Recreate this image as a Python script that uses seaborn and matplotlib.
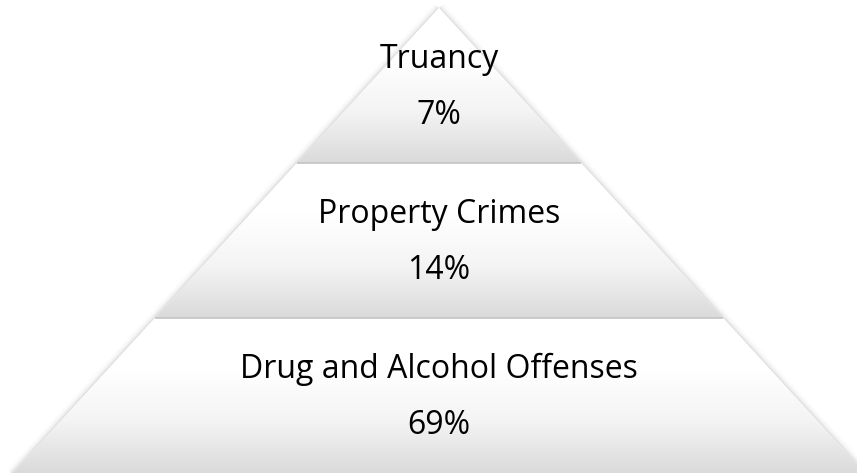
import numpy as np
import matplotlib
matplotlib.use("Agg")
import matplotlib.pyplot as plt
from matplotlib.patches import Polygon
import seaborn as sns

# Tiers of the pyramid, from the apex down to the base
levels = ["Truancy", "Property Crimes", "Drug and Alcohol Offenses"]
shares = [7, 14, 69]

sns.set_theme(style="white")
plt.rcParams["font.family"] = ["Open Sans", "DejaVu Sans"]

W, H = 857, 473
fig = plt.figure(figsize=(W / 100, H / 100), dpi=100)
ax = fig.add_axes([0, 0, 1, 1])
ax.set_xlim(0, W)
ax.set_ylim(H, 0)
ax.axis("off")

cx, apex_y = 439, 8
slope = 0.916          # half-width gained per pixel of height
tier_h = 155
base_y = apex_y + tier_h * len(levels)


def half(y):
    return slope * (y - apex_y)


# soft drop shadow around the whole pyramid
outline = [(cx, apex_y), (cx + half(base_y + 4), base_y + 4), (cx - half(base_y + 4), base_y + 4)]
for lw, a in [(9, 0.025), (6, 0.04), (3.5, 0.06), (1.8, 0.08)]:
    ax.add_patch(Polygon(outline, closed=True, fill=False, edgecolor="#606060",
                         linewidth=lw, alpha=a, joinstyle="round", zorder=1))

# white-to-grey vertical shading for every tier
shade = sns.blend_palette(["#ffffff", "#ffffff", "#f4f4f4", "#dadada"], as_cmap=True)
grad = np.linspace(0, 1, 256).reshape(-1, 1)

for i, (name, share) in enumerate(zip(levels, shares)):
    y0 = apex_y + i * tier_h
    y1 = y0 + tier_h
    pts = [(cx - half(y0), y0), (cx + half(y0), y0),
           (cx + half(y1), y1), (cx - half(y1), y1)]
    poly = Polygon(pts, closed=True, facecolor="white", edgecolor="none", zorder=2)
    ax.add_patch(poly)
    img = ax.imshow(grad, cmap=shade, aspect="auto", origin="upper",
                    extent=(cx - half(y1), cx + half(y1), y1, y0),
                    interpolation="bilinear", zorder=3)
    img.set_clip_path(poly)
    if i < len(levels) - 1:
        ax.plot([cx - half(y1), cx + half(y1)], [y1, y1], color="#c4c4c4",
                linewidth=1.2, solid_capstyle="butt", zorder=4)
    ax.text(cx, y0 + 60, name, ha="center", va="baseline", fontsize=23,
            color="black", zorder=5)
    ax.text(cx, y0 + 116, f"{share}%", ha="center", va="baseline", fontsize=23,
            color="black", zorder=5)

ax.set_xlim(0, W)
ax.set_ylim(H, 0)
fig.savefig("out.png", dpi=100, facecolor="white")
